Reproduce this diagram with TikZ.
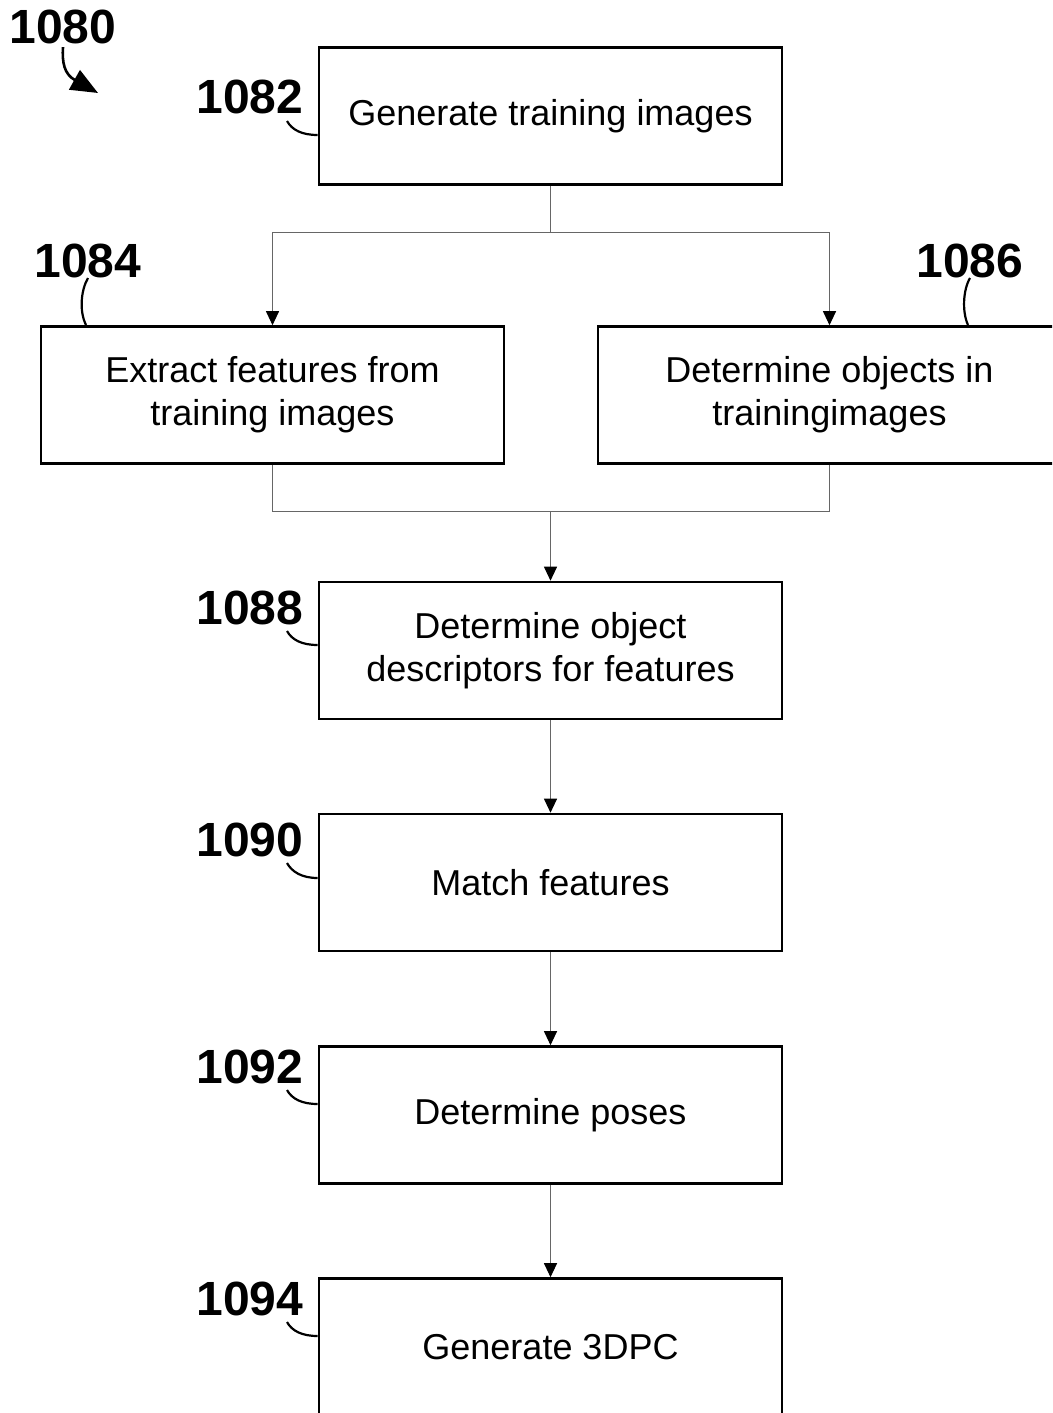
\documentclass[tikz,border=0pt]{standalone}
\usepackage{fontspec}
\setmainfont{Liberation Sans}
\usetikzlibrary{arrows.meta}
\tikzset{
  stepbox/.style={draw=black, line width=2.6pt, minimum width=463pt, minimum height=137pt,
    align=center, inner sep=0pt, font=\fontsize{36}{43}\selectfont},
  reflabel/.style={font=\bfseries\fontsize{48}{50}\selectfont, inner sep=0pt},
  flow/.style={draw=black!60, line width=1pt},
  flowarrow/.style={flow, -{Triangle[length=14pt,width=13pt,fill=black,color=black]}},
  leader/.style={draw=black, line width=2.2pt},
}
\begin{document}
\begin{tikzpicture}[x=1pt,y=-1pt]
\useasboundingbox (0,0) rectangle (1052,1413);
\clip (0,0) rectangle (1052,1413);
\fill[white] (0,0) rectangle (1052,1413);

% process boxes
\node[stepbox] (b1082) at (550.5,116) {Generate training images};
\node[stepbox] (b1084) at (272.5,395) {Extract features from\\training images};
\node[stepbox] (b1086) at (829.5,395) {Determine objects in\\trainingimages};
\node[stepbox] (b1088) at (550.5,650.5) {Determine object\\descriptors for features};
\node[stepbox] (b1090) at (550.5,882.5) {Match features};
\node[stepbox] (b1092) at (550.5,1115) {Determine poses};
\node[stepbox] (b1094) at (550.5,1347) {Generate 3DPC};

% reference numerals
\node[reflabel] (l1080) at (63,27) {1080};
\node[reflabel] (l1082) at (250,97) {1082};
\node[reflabel] (l1084) at (88,261) {1084};
\node[reflabel] (l1086) at (970,261) {1086};
\node[reflabel] (l1088) at (250,608) {1088};
\node[reflabel] (l1090) at (250,840) {1090};
\node[reflabel] (l1092) at (250,1067) {1092};
\node[reflabel] (l1094) at (250,1299) {1094};

% flow connectors
\coordinate (split) at (550.5,232);
\coordinate (join) at (550.5,511);
\draw[flow] (b1082.south) -- (split);
\draw[flowarrow] (split) -| (b1084.north);
\draw[flowarrow] (split) -| (b1086.north);
\draw[flow] (b1084.south) |- (join);
\draw[flow] (b1086.south) |- (join);
\draw[flowarrow] (join) -- (b1088.north);
\draw[flowarrow] (b1088.south) -- (b1090.north);
\draw[flowarrow] (b1090.south) -- (b1092.north);
\draw[flowarrow] (b1092.south) -- (b1094.north);

% figure arrow
\draw[line width=2.6pt, -{Triangle[length=27pt,width=22pt]}]
  ([yshift=-3pt]l1080.south) .. controls (62,62) and (64,74) .. (98,93);

% leader lines
\draw[leader] (287,121) .. controls (292,130) and (302,135) .. ([yshift=-19pt]b1082.west);
\draw[leader] (88,278) .. controls (81,290) and (79,311) .. (86,325);
\draw[leader] (970,278) .. controls (963,290) and (962,312) .. (968,325);
\draw[leader] (287,631) .. controls (292,640) and (302,645) .. ([yshift=5.5pt]b1088.west);
\draw[leader] (287,863) .. controls (292,872) and (302,878) .. ([yshift=4.5pt]b1090.west);
\draw[leader] (287,1090) .. controls (292,1099) and (302,1104) .. ([yshift=11pt]b1092.west);
\draw[leader] (287,1322) .. controls (292,1331) and (302,1336) .. ([yshift=11pt]b1094.west);
\end{tikzpicture}
\end{document}
